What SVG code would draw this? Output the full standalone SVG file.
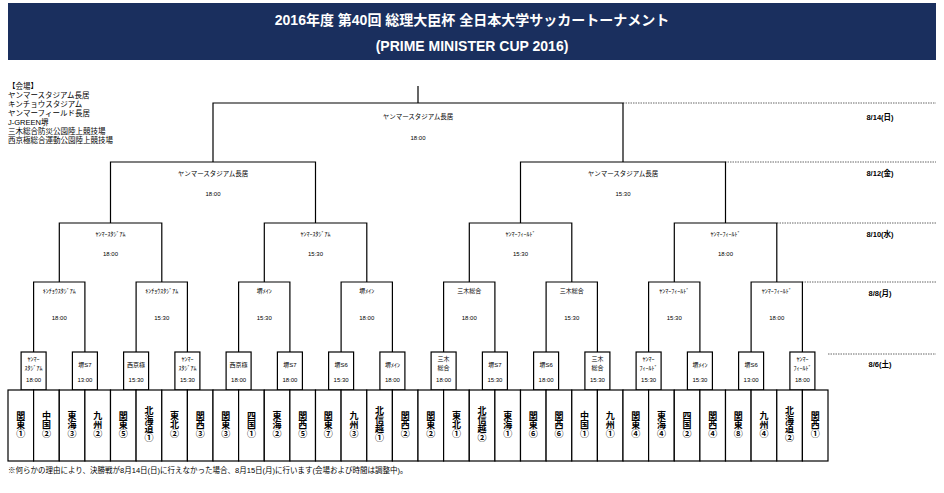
<svg xmlns="http://www.w3.org/2000/svg" width="944" height="493" viewBox="0 0 944 493">
<style>
text{font-family:"Liberation Sans","Noto Sans CJK JP",sans-serif;fill:#000}
.t{font-size:14px;font-weight:bold;fill:#fff;text-anchor:middle}
.lg{font-size:7.5px}
.v{font-size:6px;text-anchor:middle}
.d{font-size:7.5px;font-weight:bold;text-anchor:middle}
.tm{font-size:9px;font-weight:bold;text-anchor:middle}
.b{fill:#fff;stroke:#000;stroke-width:1.2}
.c{fill:none;stroke:#000;stroke-width:1.2}
.dot{stroke:#666;stroke-width:1;stroke-dasharray:1.5 1}
</style>
<rect x="8" y="3" width="928" height="57" fill="#1a2f5e"/>
<text class="t" x="472" y="25">2016年度 第40回 総理大臣杯 全日本大学サッカートーナメント</text>
<text class="t" x="472" y="51">(PRIME MINISTER CUP 2016)</text>
<g id="legend" class="lg">
<text x="8" y="89">【会場】</text>
<text x="8" y="98">ヤンマースタジアム長居</text>
<text x="8" y="107">キンチョウスタジアム</text>
<text x="8" y="116">ヤンマーフィールド長居</text>
<text x="8" y="125">J-GREEN堺</text>
<text x="8" y="134">三木総合防災公園陸上競技場</text>
<text x="8" y="143">西京極総合運動公園陸上競技場</text>
</g>
<g id="dates">
<line class="dot" x1="623" y1="103" x2="936" y2="103"/><text class="d" x="880" y="120">8/14(日)</text>
<line class="dot" x1="725" y1="162" x2="936" y2="162"/><text class="d" x="880" y="176">8/12(金)</text>
<line class="dot" x1="777" y1="223" x2="936" y2="223"/><text class="d" x="880" y="237">8/10(水)</text>
<line class="dot" x1="802" y1="282" x2="936" y2="282"/><text class="d" x="880" y="296">8/8(月)</text>
<line class="dot" x1="828" y1="354" x2="936" y2="354"/><text class="d" x="880" y="367">8/6(土)</text>
</g>
<g id="connectors" class="c">
<path d="M418 86V103M213 162V103H623V162"/>
<path d="M110.5 223V162H315.5V223M520.5 223V162H725.5V223"/>
<path d="M59.3 282V223H161.8V282M264.3 282V223H366.8V282M469.3 282V223H571.8V282M674.3 282V223H776.8V282"/>
<path d="M33.6 352V282H84.9V352M136.1 352V282H187.4V352M238.6 352V282H289.9V352M341.1 352V282H392.4V352M443.6 352V282H494.9V352M546.1 352V282H597.4V352M648.6 352V282H699.9V352M751.1 352V282H802.4V352"/>
</g>
<g id="final" class="v"><text x="418" y="119" style="font-size:6.5px">ヤンマースタジアム長居</text><text x="418" y="140">18:00</text></g>
<g id="sf1" class="v"><text x="213" y="176" style="font-size:6.5px">ヤンマースタジアム長居</text><text x="213" y="196">18:00</text></g>
<g id="sf2" class="v"><text x="623" y="176" style="font-size:6.5px">ヤンマースタジアム長居</text><text x="623" y="196">15:30</text></g>
<g id="qf1" class="v"><text x="110.5" y="236">ﾔﾝﾏｰｽﾀｼﾞｱﾑ</text><text x="110.5" y="256">18:00</text></g>
<g id="qf2" class="v"><text x="315.5" y="236">ﾔﾝﾏｰｽﾀｼﾞｱﾑ</text><text x="315.5" y="256">15:30</text></g>
<g id="qf3" class="v"><text x="520.5" y="236">ﾔﾝﾏｰﾌｨｰﾙﾄﾞ</text><text x="520.5" y="256">15:30</text></g>
<g id="qf4" class="v"><text x="725.5" y="236">ﾔﾝﾏｰﾌｨｰﾙﾄﾞ</text><text x="725.5" y="256">18:00</text></g>
<g id="r2a" class="v"><text x="59.3" y="293">ｷﾝﾁｮｳｽﾀｼﾞｱﾑ</text><text x="59.3" y="320">18:00</text></g>
<g id="r2b" class="v"><text x="161.8" y="293">ｷﾝﾁｮｳｽﾀｼﾞｱﾑ</text><text x="161.8" y="320">15:30</text></g>
<g id="r2c" class="v"><text x="264.3" y="293">堺ﾒｲﾝ</text><text x="264.3" y="320">15:30</text></g>
<g id="r2d" class="v"><text x="366.8" y="293">堺ﾒｲﾝ</text><text x="366.8" y="320">18:00</text></g>
<g id="r2e" class="v"><text x="469.3" y="293">三木総合</text><text x="469.3" y="320">18:00</text></g>
<g id="r2f" class="v"><text x="571.8" y="293">三木総合</text><text x="571.8" y="320">15:30</text></g>
<g id="r2g" class="v"><text x="674.3" y="293">ﾔﾝﾏｰﾌｨｰﾙﾄﾞ</text><text x="674.3" y="320">15:30</text></g>
<g id="r2h" class="v"><text x="776.8" y="293">ﾔﾝﾏｰﾌｨｰﾙﾄﾞ</text><text x="776.8" y="320">18:00</text></g>
<g id="r1" class="v">
<g id="m1"><rect class="b" x="21.1" y="352" width="25" height="38"/><text x="33.6" y="361">ﾔﾝﾏｰ</text><text x="33.6" y="370">ｽﾀｼﾞｱﾑ</text><text x="33.6" y="382">18:00</text></g>
<g id="m2"><rect class="b" x="72.4" y="352" width="25" height="38"/><text x="84.9" y="367">堺S7</text><text x="84.9" y="382">13:00</text></g>
<g id="m3"><rect class="b" x="123.6" y="352" width="25" height="38"/><text x="136.1" y="367">西京極</text><text x="136.1" y="382">15:30</text></g>
<g id="m4"><rect class="b" x="174.9" y="352" width="25" height="38"/><text x="187.4" y="361">ﾔﾝﾏｰ</text><text x="187.4" y="370">ｽﾀｼﾞｱﾑ</text><text x="187.4" y="382">15:30</text></g>
<g id="m5"><rect class="b" x="226.1" y="352" width="25" height="38"/><text x="238.6" y="367">西京極</text><text x="238.6" y="382">18:00</text></g>
<g id="m6"><rect class="b" x="277.4" y="352" width="25" height="38"/><text x="289.9" y="367">堺S7</text><text x="289.9" y="382">18:00</text></g>
<g id="m7"><rect class="b" x="328.6" y="352" width="25" height="38"/><text x="341.1" y="367">堺S6</text><text x="341.1" y="382">15:30</text></g>
<g id="m8"><rect class="b" x="379.9" y="352" width="25" height="38"/><text x="392.4" y="367">堺ﾒｲﾝ</text><text x="392.4" y="382">18:00</text></g>
<g id="m9"><rect class="b" x="431.1" y="352" width="25" height="38"/><text x="443.6" y="361">三木</text><text x="443.6" y="370">総合</text><text x="443.6" y="382">18:00</text></g>
<g id="m10"><rect class="b" x="482.4" y="352" width="25" height="38"/><text x="494.9" y="367">堺S7</text><text x="494.9" y="382">15:30</text></g>
<g id="m11"><rect class="b" x="533.6" y="352" width="25" height="38"/><text x="546.1" y="367">堺S6</text><text x="546.1" y="382">18:00</text></g>
<g id="m12"><rect class="b" x="584.9" y="352" width="25" height="38"/><text x="597.4" y="361">三木</text><text x="597.4" y="370">総合</text><text x="597.4" y="382">15:30</text></g>
<g id="m13"><rect class="b" x="636.1" y="352" width="25" height="38"/><text x="648.6" y="361">ﾔﾝﾏｰ</text><text x="648.6" y="370">ﾌｨｰﾙﾄﾞ</text><text x="648.6" y="382">15:30</text></g>
<g id="m14"><rect class="b" x="687.4" y="352" width="25" height="38"/><text x="699.9" y="367">堺ﾒｲﾝ</text><text x="699.9" y="382">15:30</text></g>
<g id="m15"><rect class="b" x="738.6" y="352" width="25" height="38"/><text x="751.1" y="367">堺S6</text><text x="751.1" y="382">13:00</text></g>
<g id="m16"><rect class="b" x="789.9" y="352" width="25" height="38"/><text x="802.4" y="361">ﾔﾝﾏｰ</text><text x="802.4" y="370">ﾌｨｰﾙﾄﾞ</text><text x="802.4" y="382">18:00</text></g>
</g>
<g id="teams" class="tm">
<g id="t1"><rect class="b" x="8" y="390" width="25.6" height="71"/><text x="20.8" y="419">関<tspan x="20.8" dy="9">東</tspan><tspan x="20.8" dy="9">①</tspan></text></g>
<g id="t2"><rect class="b" x="33.6" y="390" width="25.6" height="71"/><text x="46.4" y="419">中<tspan x="46.4" dy="9">国</tspan><tspan x="46.4" dy="9">②</tspan></text></g>
<g id="t3"><rect class="b" x="59.3" y="390" width="25.6" height="71"/><text x="72.1" y="419">東<tspan x="72.1" dy="9">海</tspan><tspan x="72.1" dy="9">③</tspan></text></g>
<g id="t4"><rect class="b" x="84.9" y="390" width="25.6" height="71"/><text x="97.7" y="419">九<tspan x="97.7" dy="9">州</tspan><tspan x="97.7" dy="9">②</tspan></text></g>
<g id="t5"><rect class="b" x="110.5" y="390" width="25.6" height="71"/><text x="123.3" y="419">関<tspan x="123.3" dy="9">東</tspan><tspan x="123.3" dy="9">⑤</tspan></text></g>
<g id="t6"><rect class="b" x="136.1" y="390" width="25.6" height="71"/><text x="148.9" y="414">北<tspan x="148.9" dy="9">海</tspan><tspan x="148.9" dy="9">道</tspan><tspan x="148.9" dy="9">①</tspan></text></g>
<g id="t7"><rect class="b" x="161.8" y="390" width="25.6" height="71"/><text x="174.6" y="419">東<tspan x="174.6" dy="9">北</tspan><tspan x="174.6" dy="9">②</tspan></text></g>
<g id="t8"><rect class="b" x="187.4" y="390" width="25.6" height="71"/><text x="200.2" y="419">関<tspan x="200.2" dy="9">西</tspan><tspan x="200.2" dy="9">③</tspan></text></g>
<g id="t9"><rect class="b" x="213" y="390" width="25.6" height="71"/><text x="225.8" y="419">関<tspan x="225.8" dy="9">東</tspan><tspan x="225.8" dy="9">③</tspan></text></g>
<g id="t10"><rect class="b" x="238.6" y="390" width="25.6" height="71"/><text x="251.4" y="419">四<tspan x="251.4" dy="9">国</tspan><tspan x="251.4" dy="9">①</tspan></text></g>
<g id="t11"><rect class="b" x="264.3" y="390" width="25.6" height="71"/><text x="277.1" y="419">東<tspan x="277.1" dy="9">海</tspan><tspan x="277.1" dy="9">②</tspan></text></g>
<g id="t12"><rect class="b" x="289.9" y="390" width="25.6" height="71"/><text x="302.7" y="419">関<tspan x="302.7" dy="9">西</tspan><tspan x="302.7" dy="9">⑤</tspan></text></g>
<g id="t13"><rect class="b" x="315.5" y="390" width="25.6" height="71"/><text x="328.3" y="419">関<tspan x="328.3" dy="9">東</tspan><tspan x="328.3" dy="9">⑦</tspan></text></g>
<g id="t14"><rect class="b" x="341.1" y="390" width="25.6" height="71"/><text x="353.9" y="419">九<tspan x="353.9" dy="9">州</tspan><tspan x="353.9" dy="9">③</tspan></text></g>
<g id="t15"><rect class="b" x="366.8" y="390" width="25.6" height="71"/><text x="379.6" y="414">北<tspan x="379.6" dy="9">信</tspan><tspan x="379.6" dy="9">越</tspan><tspan x="379.6" dy="9">①</tspan></text></g>
<g id="t16"><rect class="b" x="392.4" y="390" width="25.6" height="71"/><text x="405.2" y="419">関<tspan x="405.2" dy="9">西</tspan><tspan x="405.2" dy="9">②</tspan></text></g>
<g id="t17"><rect class="b" x="418" y="390" width="25.6" height="71"/><text x="430.8" y="419">関<tspan x="430.8" dy="9">東</tspan><tspan x="430.8" dy="9">②</tspan></text></g>
<g id="t18"><rect class="b" x="443.6" y="390" width="25.6" height="71"/><text x="456.4" y="419">東<tspan x="456.4" dy="9">北</tspan><tspan x="456.4" dy="9">①</tspan></text></g>
<g id="t19"><rect class="b" x="469.3" y="390" width="25.6" height="71"/><text x="482.1" y="414">北<tspan x="482.1" dy="9">信</tspan><tspan x="482.1" dy="9">越</tspan><tspan x="482.1" dy="9">②</tspan></text></g>
<g id="t20"><rect class="b" x="494.9" y="390" width="25.6" height="71"/><text x="507.7" y="419">東<tspan x="507.7" dy="9">海</tspan><tspan x="507.7" dy="9">①</tspan></text></g>
<g id="t21"><rect class="b" x="520.5" y="390" width="25.6" height="71"/><text x="533.3" y="419">関<tspan x="533.3" dy="9">東</tspan><tspan x="533.3" dy="9">⑥</tspan></text></g>
<g id="t22"><rect class="b" x="546.1" y="390" width="25.6" height="71"/><text x="558.9" y="419">関<tspan x="558.9" dy="9">西</tspan><tspan x="558.9" dy="9">⑥</tspan></text></g>
<g id="t23"><rect class="b" x="571.8" y="390" width="25.6" height="71"/><text x="584.6" y="419">中<tspan x="584.6" dy="9">国</tspan><tspan x="584.6" dy="9">①</tspan></text></g>
<g id="t24"><rect class="b" x="597.4" y="390" width="25.6" height="71"/><text x="610.2" y="419">九<tspan x="610.2" dy="9">州</tspan><tspan x="610.2" dy="9">①</tspan></text></g>
<g id="t25"><rect class="b" x="623" y="390" width="25.6" height="71"/><text x="635.8" y="419">関<tspan x="635.8" dy="9">東</tspan><tspan x="635.8" dy="9">④</tspan></text></g>
<g id="t26"><rect class="b" x="648.6" y="390" width="25.6" height="71"/><text x="661.4" y="419">東<tspan x="661.4" dy="9">海</tspan><tspan x="661.4" dy="9">④</tspan></text></g>
<g id="t27"><rect class="b" x="674.3" y="390" width="25.6" height="71"/><text x="687.1" y="419">四<tspan x="687.1" dy="9">国</tspan><tspan x="687.1" dy="9">②</tspan></text></g>
<g id="t28"><rect class="b" x="699.9" y="390" width="25.6" height="71"/><text x="712.7" y="419">関<tspan x="712.7" dy="9">西</tspan><tspan x="712.7" dy="9">④</tspan></text></g>
<g id="t29"><rect class="b" x="725.5" y="390" width="25.6" height="71"/><text x="738.3" y="419">関<tspan x="738.3" dy="9">東</tspan><tspan x="738.3" dy="9">⑧</tspan></text></g>
<g id="t30"><rect class="b" x="751.1" y="390" width="25.6" height="71"/><text x="763.9" y="419">九<tspan x="763.9" dy="9">州</tspan><tspan x="763.9" dy="9">④</tspan></text></g>
<g id="t31"><rect class="b" x="776.8" y="390" width="25.6" height="71"/><text x="789.6" y="414">北<tspan x="789.6" dy="9">海</tspan><tspan x="789.6" dy="9">道</tspan><tspan x="789.6" dy="9">②</tspan></text></g>
<g id="t32"><rect class="b" x="802.4" y="390" width="25.6" height="71"/><text x="815.2" y="419">関<tspan x="815.2" dy="9">西</tspan><tspan x="815.2" dy="9">①</tspan></text></g>
</g>
<text x="8" y="473" style="font-size:7.5px">※何らかの理由により、決勝戦が8月14日(日)に行えなかった場合、8月15日(月)に行います(会場および時間は調整中)。</text>
</svg>
